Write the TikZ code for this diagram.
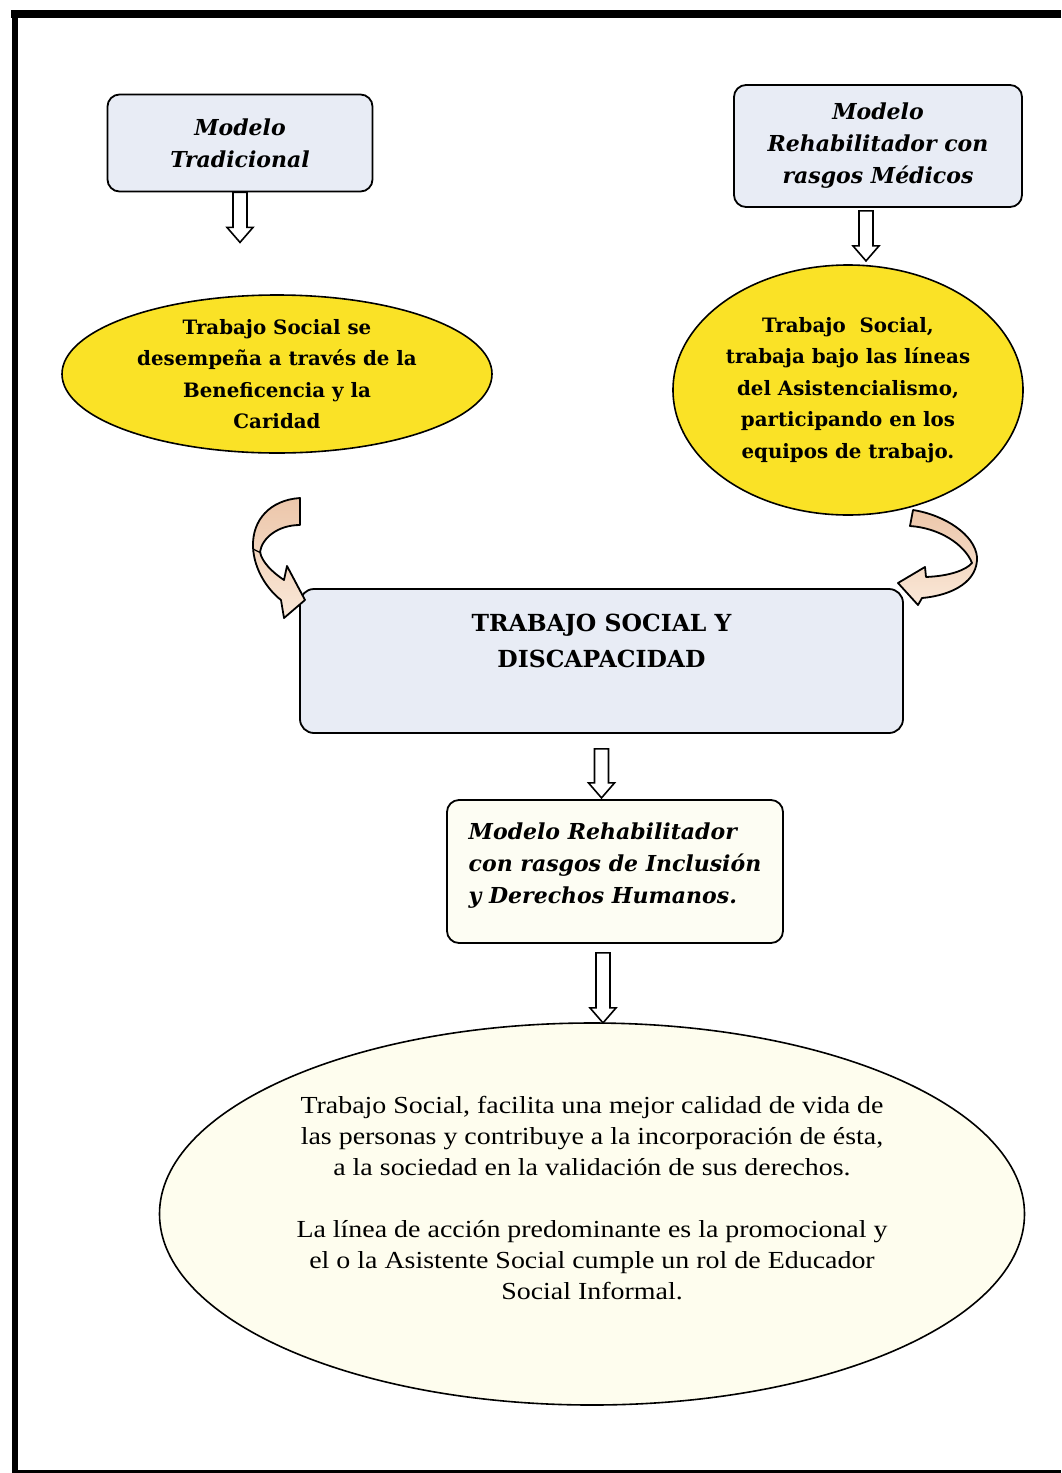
\documentclass[tikz,border=0pt]{standalone}
\usepackage{fontspec}
\setmainfont{Liberation Serif}
\newfontfamily\schb{DejaVu Serif}
\newfontfamily\widefont[FakeStretch=1.14]{Liberation Serif}
\usetikzlibrary{shapes.geometric}
\definecolor{boxblue}{RGB}{232,236,245}
\definecolor{ylw}{RGB}{250,226,38}
\definecolor{cream}{RGB}{254,253,238}
\definecolor{creambox}{RGB}{253,253,243}
\definecolor{peachA}{RGB}{236,198,170}
\definecolor{peachB}{RGB}{250,232,216}
\newcommand\harrow[2]{%
  \draw[hollow] (#1) ++(-7,0) -- ++(0,{#2-15}) -- ++(-6,0) -- ++(13,15)
    -- ++(13,-15) -- ++(-6,0) -- ++(0,{-(#2-15)}) -- cycle;}
\begin{document}
\begin{tikzpicture}[x=1pt,y=-1pt,
  modelbox/.style={draw, line width=1.8, rounded corners=12, fill=boxblue,
    inner sep=0, align=center},
  yellipse/.style={draw, line width=1.6, ellipse, fill=ylw, inner sep=0},
  bigellipse/.style={draw, line width=1.6, ellipse, fill=cream, inner sep=0},
  boxtxt/.style={font=\schb\bfseries\itshape\fontsize{22}{32}\selectfont, align=center},
  elltxt/.style={font=\schb\bfseries\fontsize{19.8}{31.5}\selectfont, align=center},
  captxt/.style={font=\schb\bfseries\fontsize{23.5}{36}\selectfont, align=center},
  bigtxt/.style={font=\widefont\fontsize{24.5}{31}\selectfont, align=center},
  hollow/.style={draw, line width=1.6, fill=white, line join=miter},
  curvarrow/.style={draw, line width=1.8, top color=peachA, bottom color=peachB, line join=round}
]
\useasboundingbox (0,0) rectangle (1061,1473);
\fill[white] (0,0) rectangle (1061,1473);
% frame
\draw[line width=8] (1061,14) -- (11,14);
\draw[line width=6] (15,10) -- (15,1472);
\draw[line width=3] (12,1471) -- (1061,1471);

% top boxes
\node[modelbox, minimum width=265, minimum height=97] (box1) at (240,143) {};
\node[boxtxt] (box1t) at (box1.center) {Modelo\\Tradicional};
\node[modelbox, minimum width=288, minimum height=122] (box2) at (878,146) {};
\node[boxtxt] (box2t) at (box2.center) {Modelo\\Rehabilitador con\\rasgos Médicos};

% yellow ellipses
\node[yellipse, minimum width=430, minimum height=158] (ell1) at (277,374) {};
\node[elltxt] (ell1t) at (ell1.center) {Trabajo Social se\\desempeña a través de la\\Beneficencia y la\\Caridad};
\node[yellipse, minimum width=350, minimum height=250] (ell2) at (848,390) {};
\node[elltxt] (ell2t) at (ell2.center) {Trabajo\ \ Social,\\trabaja bajo las líneas\\del Asistencialismo,\\participando en los\\equipos de trabajo.};

% center box
\node[modelbox, rounded corners=14, minimum width=603, minimum height=144] (center) at (601.5,661) {};
\node[captxt] (centert) at ([yshift=20]center.center) {TRABAJO SOCIAL Y\\DISCAPACIDAD};

% box 4
\node[modelbox, fill=creambox, minimum width=336, minimum height=143] (box4) at (615,871.5) {};
\node[boxtxt, align=left] (box4t) at ([yshift=6]box4.center) {Modelo Rehabilitador\\con rasgos de Inclusión\\y Derechos Humanos.};

% big ellipse
\node[bigellipse, minimum width=865, minimum height=382] (big) at (592,1214) {};
\node[bigtxt] (bigt) at ([yshift=16]big.center) {Trabajo Social, facilita una mejor calidad de vida de\\las personas y contribuye a la incorporación de ésta,\\a la sociedad en la validación de sus derechos.\\[31pt]La línea de acción predominante es la promocional y\\el o la Asistente Social cumple un rol de Educador\\Social Informal.};

% hollow arrows
\harrow{box1.south}{50}
\harrow{[xshift=-12pt,yshift=-3pt]box2.south}{50}
\harrow{[yshift=-15pt]center.south}{49}
\harrow{[xshift=-12pt,yshift=-9pt]box4.south}{70}

% curved arrows
\draw[curvarrow] (300,498) .. controls (270,500) and (252,520) .. (253,547)
  .. controls (254,570) and (268,590) .. (281,600)
  -- (284,618) -- (305,600) -- (287,566) -- (284,580)
  .. controls (272,572) and (262,562) .. (260,552)
  .. controls (262,538) and (278,525) .. (300,525) -- cycle;
\draw[line width=1.2] (253,549) -- (261,553);
\draw[curvarrow] (913,510) .. controls (945,515) and (975,535) .. (977,557)
  .. controls (978,580) and (955,595) .. (922,598)
  -- (918,605) -- (898,583) -- (925,567) -- (926,577)
  .. controls (950,576) and (966,570) .. (972,563)
  .. controls (965,545) and (940,528) .. (910,526) -- cycle;
\end{tikzpicture}
\end{document}
